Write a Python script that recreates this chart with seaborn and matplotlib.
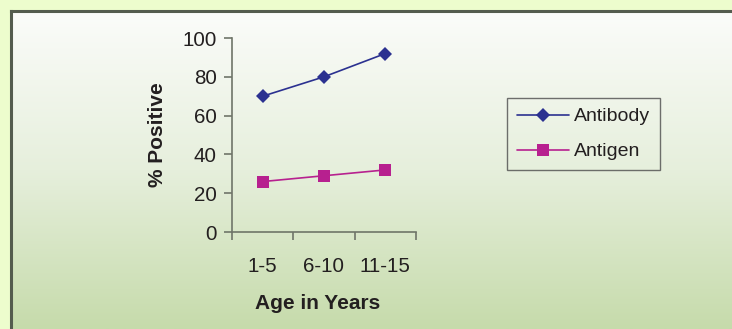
import numpy as np
import pandas as pd
import matplotlib.pyplot as plt
import seaborn as sns
from matplotlib.colors import LinearSegmentedColormap
from matplotlib.lines import Line2D

# Data
age_groups = ['1-5', '6-10', '11-15']
antibody = [70, 80, 92]
antigen = [26, 29, 32]

df = pd.DataFrame({
    'pos': list(range(len(age_groups))) * 2,
    'value': antibody + antigen,
    'series': ['Antibody'] * 3 + ['Antigen'] * 3,
})

sns.set_theme(style='white')
plt.rcParams['font.family'] = ['Liberation Sans', 'DejaVu Sans']
text_color = '#231f20'
axis_color = '#6f7569'

W, H = 732, 329
fig = plt.figure(figsize=(W / 100, H / 100), dpi=100, facecolor='#edfdcd')

# Background panel with vertical gradient and dark frame
bg = fig.add_axes([11 / W, 0, 1 - 11 / W, 1 - 11 / H])
grad = np.linspace(0, 1, 256).reshape(-1, 1)
cmap = LinearSegmentedColormap.from_list('bg', ['#fbfcfa', '#e6efdc', '#c6dbab'])
bg.imshow(grad, aspect='auto', cmap=cmap, extent=[0, 1, 0, 1], origin='upper')
bg.set_xticks([])
bg.set_yticks([])
for side in ['right', 'bottom']:
    bg.spines[side].set_visible(False)
for side in ['left', 'top']:
    bg.spines[side].set_color('#545c4e')
    bg.spines[side].set_linewidth(2.2)

# Main axes
ax = fig.add_axes([232 / W, (H - 232) / H, (416 - 232) / W, (232 - 38) / H])
ax.patch.set_alpha(0)

palette = {'Antibody': '#2b3190', 'Antigen': '#b7208f'}
sns.lineplot(data=df, x='pos', y='value', hue='series', style='series',
             palette=palette, markers={'Antibody': 'D', 'Antigen': 's'},
             dashes=False, linewidth=1.2, markeredgewidth=0, ax=ax, legend=False)
for line, ms in zip(ax.lines, [7.5, 8.5]):
    line.set_markersize(ms)
    line.set_clip_on(False)

ax.set_xlim(-0.5, 2.5)
ax.set_ylim(0, 100)
ax.set_yticks([0, 20, 40, 60, 80, 100])
ax.set_xticks([-0.5, 0.5, 1.5, 2.5])
ax.set_xticklabels([])
ax.set_xticks(range(len(age_groups)), minor=True)
ax.set_xticklabels(age_groups, minor=True)

ax.tick_params(axis='y', which='major', direction='out', length=6, width=1.2,
               color=axis_color, labelsize=14.8, labelcolor=text_color, pad=5, left=True)
ax.tick_params(axis='x', which='major', direction='out', length=6, width=1.2,
               color=axis_color, bottom=True)
ax.tick_params(axis='x', which='minor', length=0, labelsize=14.8,
               labelcolor=text_color, pad=18, bottom=True)

for side in ['top', 'right']:
    ax.spines[side].set_visible(False)
for side in ['left', 'bottom']:
    ax.spines[side].set_color(axis_color)
    ax.spines[side].set_linewidth(1.2)

ax.set_xlabel('Age in Years', fontsize=15, fontweight='bold', color=text_color)
ax.xaxis.set_label_coords((318 - 232) / (416 - 232), -(294 - 232) / (232 - 38))
ax.set_ylabel('% Positive', fontsize=15, fontweight='bold', color=text_color)
ax.yaxis.set_label_coords(-(232 - 167) / (416 - 232), 0.5)

# Legend
handles = [
    Line2D([], [], color=palette['Antibody'], marker='D', markersize=7.5,
           markeredgewidth=0, linewidth=1.2),
    Line2D([], [], color=palette['Antigen'], marker='s', markersize=8.5,
           markeredgewidth=0, linewidth=1.2),
]
leg = fig.legend(handles, ['Antibody', 'Antigen'], loc='upper left',
                 bbox_to_anchor=(507 / W, 1 - 98 / H), fontsize=14,
                 frameon=True, fancybox=False, handlelength=2.7,
                 handletextpad=0.25, labelspacing=0.9, borderpad=0.5,
                 borderaxespad=0)
leg.get_frame().set_edgecolor('#4d4d4d')
leg.get_frame().set_linewidth(1.0)
leg.get_frame().set_facecolor('none')
for t in leg.get_texts():
    t.set_color(text_color)

fig.savefig('out.png', dpi=100, facecolor=fig.get_facecolor())
